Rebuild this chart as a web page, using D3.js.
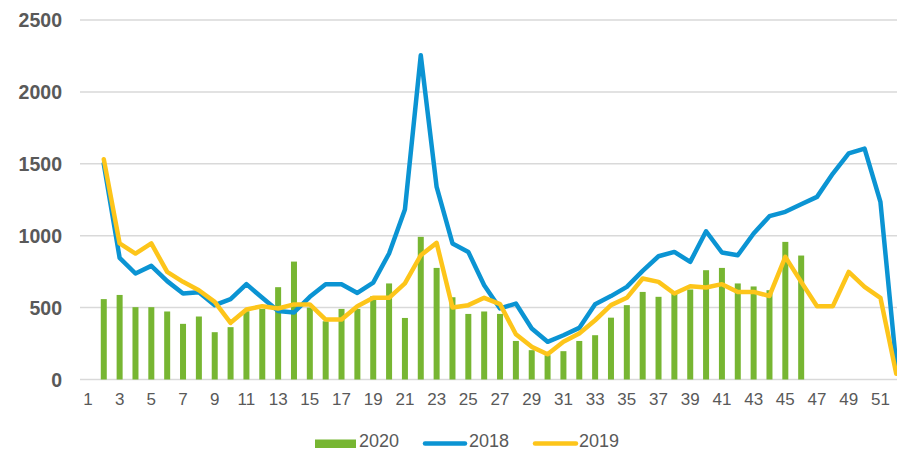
<!DOCTYPE html>
<html>
<head>
<meta charset="utf-8">
<script src="https://cdn.jsdelivr.net/npm/d3@7"></script>
<style>
    body { margin: 0; background: #fff; }
    svg { display: block; font-family: "Liberation Sans", Arial, sans-serif; }
</style>
</head>
<body>
<svg id="chart" width="897" height="452"></svg>
<script>
// week numbers 1..52
var weeks = d3.range(1, 53);
var xTickLabels = weeks.filter(function (w) { return w % 2 === 1; });
var yTicks = [0, 500, 1000, 1500, 2000, 2500];

// 2020 bars, weeks 2..46
var weeks2020 = d3.range(2, 47);
var values2020 = [559, 588, 503, 503, 473, 387, 438, 329, 364, 475, 491, 642, 820, 500, 405,
    491, 491, 579, 668, 428, 992, 776, 572, 456, 473, 456, 268, 204, 169, 197, 268, 308, 430,
    517, 609, 575, 598, 626, 760, 776, 668, 647, 621, 957, 862];

// lines, weeks 2..52
var weeksLines = d3.range(2, 53);
var values2018 = [1500, 846, 737, 790, 684, 598, 607, 517, 559, 663, 568, 477, 466, 575, 663,
    663, 602, 674, 876, 1182, 2255, 1339, 946, 887, 656, 494, 528, 355, 262, 308, 359, 524, 580,
    644, 755, 857, 887, 818, 1031, 883, 864, 1015, 1136, 1166, 1219, 1270, 1432, 1572, 1606, 1235, 100];
var values2019 = [1532, 946, 876, 946, 748, 679, 621, 540, 394, 487, 510, 494, 522, 522, 417,
    417, 510, 568, 568, 668, 864, 950, 501, 517, 568, 524, 315, 227, 176, 262, 320, 412, 517,
    568, 702, 679, 598, 649, 640, 663, 609, 609, 581, 853, 679, 510, 510, 748, 644, 568, 40];

var svg = d3.select("#chart");
var textColor = "#595959";

var x = d3.scaleBand()
    .domain(weeks)
    .range([80, 80 + 52 * 15.85])
    .padding(0);

var y = d3.scaleLinear()
    .domain([0, 2500])
    .range([379.5, 20]);

// gridlines
svg.append("g")
    .selectAll("line")
    .data(yTicks)
    .enter()
    .append("line")
    .attr("x1", 80)
    .attr("x2", 897)
    .attr("y1", function (d) { return y(d); })
    .attr("y2", function (d) { return y(d); })
    .attr("stroke", "#d9d9d9")
    .attr("stroke-width", 1.5);

// y labels
svg.append("g")
    .selectAll("text")
    .data(yTicks)
    .enter()
    .append("text")
    .attr("x", 62)
    .attr("y", function (d) { return y(d); })
    .attr("dy", "0.36em")
    .attr("text-anchor", "end")
    .attr("font-size", "19.5px")
    .attr("font-weight", "bold")
    .attr("fill", textColor)
    .text(function (d) { return d; });

// x labels
var xAxis = svg.append("g")
    .attr("transform", "translate(0," + 380 + ")")
    .call(d3.axisBottom(x).tickValues(xTickLabels).tickSize(0).tickPadding(13));
xAxis.select(".domain").remove();
xAxis.selectAll("text")
    .attr("font-size", "17px")
    .attr("font-family", "'Liberation Sans', Arial, sans-serif")
    .attr("fill", textColor);

// 2020 bars
var barW = 6;
svg.append("g")
    .attr("fill", "#77b632")
    .selectAll("rect")
    .data(weeks2020)
    .enter()
    .append("rect")
    .attr("x", function (d) { return x(d) + x.bandwidth() / 2 - barW / 2; })
    .attr("y", function (d, i) { return y(values2020[i]); })
    .attr("width", barW)
    .attr("height", function (d, i) { return y(0) - y(values2020[i]); });

// lines
var line = d3.line()
    .x(function (d) { return x(d[0]) + x.bandwidth() / 2; })
    .y(function (d) { return y(d[1]); });

var series = [
    {name: "2018", color: "#0b94d3", values: values2018},
    {name: "2019", color: "#fdc51a", values: values2019}
];

series.forEach(function (s) {
    svg.append("path")
        .datum(weeksLines.map(function (w, i) { return [w, s.values[i]]; }))
        .attr("fill", "none")
        .attr("stroke", s.color)
        .attr("stroke-width", 4.5)
        .attr("stroke-linejoin", "round")
        .attr("stroke-linecap", "round")
        .attr("d", line);
});

// legend
var legend = svg.append("g").attr("font-size", "18px").attr("fill", textColor);
legend.append("rect")
    .attr("x", 315).attr("y", 439.5)
    .attr("width", 41).attr("height", 8.5)
    .attr("fill", "#77b632");
legend.append("text").attr("x", 359).attr("y", 447.5).attr("dy", "-0.05em").text("2020");

legend.append("line")
    .attr("x1", 425).attr("x2", 465).attr("y1", 443.5).attr("y2", 443.5)
    .attr("stroke", "#0b94d3").attr("stroke-width", 4.5).attr("stroke-linecap", "round");
legend.append("text").attr("x", 469).attr("y", 447.5).attr("dy", "-0.05em").text("2018");

legend.append("line")
    .attr("x1", 535).attr("x2", 576).attr("y1", 443.5).attr("y2", 443.5)
    .attr("stroke", "#fdc51a").attr("stroke-width", 4.5).attr("stroke-linecap", "round");
legend.append("text").attr("x", 579).attr("y", 447.5).attr("dy", "-0.05em").text("2019");
</script>
</body>
</html>
